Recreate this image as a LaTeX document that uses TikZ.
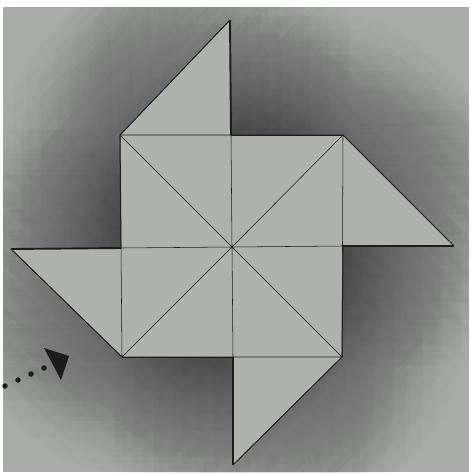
\documentclass[tikz,border=0pt]{standalone}
\usetikzlibrary{calc}
\definecolor{pwpaper}{HTML}{A9ABA9}
\definecolor{pwfold}{HTML}{AFB1AD}
\definecolor{pwink}{HTML}{1C1C1C}
\newcommand\pwoutline{(sqTL)--(tipT)--(midT)--(sqTR)--(tipR)--(midR)--(sqBR)--(tipB)--(midB)--(sqBL)--(tipL)--(midL)--cycle}

\begin{document}
\begin{tikzpicture}[x=1pt, y=-1pt,
  thinline/.style={draw=pwink, line width=0.55pt},
  edgeline/.style={draw=pwink, line width=1pt, line join=round},
  creaseline/.style={draw=pwink, line width=1.9pt},
  shadowcopy/.style={fill=black, opacity=0.0075},
  inkdot/.style={circle, fill=pwink, inner sep=0pt, minimum size=5.5pt},
]
\useasboundingbox (0,0) rectangle (471,474);
\fill[white] (0,0) rectangle (471,474);
\fill[pwpaper] (3,7) rectangle (469,472);
% square corners, side midpoints, flap tips
\coordinate (sqTL) at (120,135); \coordinate (sqTR) at (343,135); \coordinate (sqBR) at (342,357); \coordinate (sqBL) at (122,357);
\coordinate (midT) at (231,135); \coordinate (midR) at (343,246); \coordinate (midB) at (233,357); \coordinate (midL) at (121,248);
\coordinate (tipT) at (230,20); \coordinate (tipR) at (454,246); \coordinate (tipB) at (233,465); \coordinate (tipL) at (11,249);
\coordinate (hub) at (232,247);
% soft shadow: copies of the outline on rings
\begin{scope}
\clip (3,7) rectangle (469,472);
\fill[shadowcopy] \pwoutline;
\foreach \k/\n in {1/6,2/12,3/18,4/24,5/30,6/36}{
  \foreach \i in {1,...,\n}{
    \pgfmathsetmacro\ang{360*\i/\n+17*\k}
    \pgfmathsetmacro\rad{20*\k}
    \fill[shadowcopy, transform canvas={shift={(\ang:\rad pt)}}] \pwoutline;
  }
}
\end{scope}
\fill[pwfold] \pwoutline;
\draw[thinline] (sqTL)--(sqTR)--(sqBR)--(sqBL)--cycle;
\draw[thinline] (sqTL)--(hub)--(sqBR); \draw[thinline] (sqTR)--(hub)--(sqBL);
\draw[thinline] (midT)--(hub)--(midB); \draw[thinline] (midL)--(hub)--(midR);
\draw[edgeline] (sqTL)--(tipT); \draw[edgeline] (sqTR)--(tipR); \draw[edgeline] (sqBR)--(tipB); \draw[edgeline] (sqBL)--(tipL);
\draw[edgeline] (midT)--(sqTR); \draw[edgeline] (midR)--(sqBR); \draw[edgeline] (midB)--(sqBL); \draw[edgeline] (midL)--(sqTL);
\draw[creaseline] (tipT)--(midT); \draw[creaseline] (tipR)--(midR); \draw[creaseline] (tipB)--(midB); \draw[creaseline] (tipL)--(midL);
% turning arrow
\node[inkdot] (dot1) at (5,386) {}; \node[inkdot] (dot2) at (18,380) {}; \node[inkdot] (dot3) at (31,374) {}; \node[inkdot] (dot4) at (44,368) {};
\coordinate (headA) at (44,348); \coordinate (headB) at (69,356); \coordinate (headC) at (61,380);
\fill[pwink] (headA)--(headB)--(headC)--cycle;
\end{tikzpicture}
\end{document}
